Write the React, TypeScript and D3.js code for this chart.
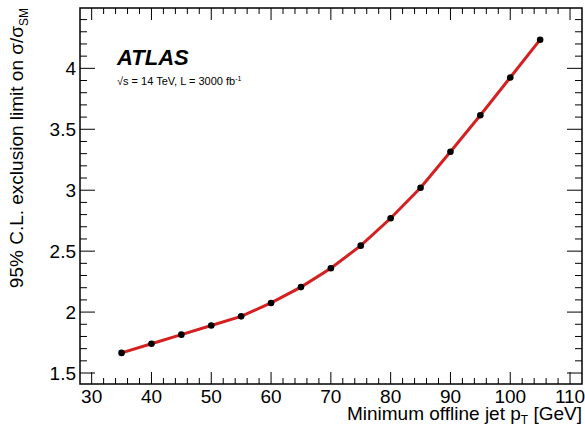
import React, { useEffect, useRef } from "react";
import * as d3 from "d3";

// minimum offline jet pT [GeV] and the limit on sigma/sigma_SM
const ptValues = [35, 40, 45, 50, 55, 60, 65, 70, 75, 80, 85, 90, 95, 100, 105];
const limitValues = [
  1.665, 1.74, 1.815, 1.89, 1.965, 2.075, 2.205, 2.36, 2.545, 2.77, 3.02, 3.315,
  3.615, 3.925, 4.235,
];
const xMajorTicks = [30, 40, 50, 60, 70, 80, 90, 100, 110];
const yMajorTicks = [1.5, 2, 2.5, 3, 3.5, 4];

const width = 585;
const height = 430;
const font = "Liberation Sans, Arial, Helvetica, sans-serif";

const App: React.FC = () => {
  const svgRef = useRef<SVGSVGElement | null>(null);

  useEffect(() => {
    if (!svgRef.current) return;
    const margin = { top: 8, right: 3, bottom: 46, left: 80 };
    const innerWidth = width - margin.left - margin.right;
    const innerHeight = height - margin.top - margin.bottom;

    d3.select(svgRef.current).selectAll("*").remove();
    const root = d3.select(svgRef.current);
    const svg = root
      .append("g")
      .attr("transform", `translate(${margin.left},${margin.top})`);

    const xScale = d3.scaleLinear().domain([28.05, 112]).range([0, innerWidth]);
    const yScale = d3.scaleLinear().domain([1.41, 4.495]).range([innerHeight, 0]);

    const xMinor = d3.range(30, 112, 2).filter((v) => v % 10 !== 0);
    const yMinor = d3
      .range(15, 45, 1)
      .map((v) => v / 10)
      .filter((v) => Math.round(v * 10) % 5 !== 0);

    // ticks on all four sides
    const tick = (
      vals: number[],
      len: number,
      side: "bottom" | "top" | "left" | "right"
    ) => {
      vals.forEach((v) => {
        const l = svg.append("line").attr("stroke", "black").attr("stroke-width", 1);
        if (side === "bottom" || side === "top") {
          const x = xScale(v);
          const y0 = side === "bottom" ? innerHeight : 0;
          const y1 = side === "bottom" ? innerHeight - len : len;
          l.attr("x1", x).attr("x2", x).attr("y1", y0).attr("y2", y1);
        } else {
          const y = yScale(v);
          const x0 = side === "left" ? 0 : innerWidth;
          const x1 = side === "left" ? len : innerWidth - len;
          l.attr("x1", x0).attr("x2", x1).attr("y1", y).attr("y2", y);
        }
      });
    };
    tick(xMajorTicks, 12, "bottom");
    tick(xMinor, 6, "bottom");
    tick(xMajorTicks, 12, "top");
    tick(xMinor, 6, "top");
    tick(yMajorTicks, 15, "left");
    tick(yMinor, 7, "left");
    tick(yMajorTicks, 15, "right");
    tick(yMinor, 7, "right");

    svg
      .append("rect")
      .attr("width", innerWidth)
      .attr("height", innerHeight)
      .attr("fill", "none")
      .attr("stroke", "black")
      .attr("stroke-width", 1.5);

    // tick labels
    svg
      .selectAll(".xlabel")
      .data(xMajorTicks)
      .enter()
      .append("text")
      .attr("x", (d) => xScale(d))
      .attr("y", innerHeight + 19)
      .attr("text-anchor", "middle")
      .attr("font-family", font)
      .attr("font-size", 19)
      .text((d) => String(d));

    svg
      .selectAll(".ylabel")
      .data(yMajorTicks)
      .enter()
      .append("text")
      .attr("x", -4)
      .attr("y", (d) => yScale(d) + 7)
      .attr("text-anchor", "end")
      .attr("font-family", font)
      .attr("font-size", 19)
      .text((d) => String(d));

    // axis titles
    const xt = svg
      .append("text")
      .attr("x", innerWidth)
      .attr("y", innerHeight + 36)
      .attr("text-anchor", "end")
      .attr("font-family", font)
      .attr("font-size", 19);
    xt.append("tspan").text("Minimum offline jet p");
    xt.append("tspan").attr("font-size", 12).attr("dy", 4).text("T");
    xt.append("tspan").attr("dy", -4).text(" [GeV]");

    const yt = svg
      .append("text")
      .attr("transform", `translate(${-57},0) rotate(-90)`)
      .attr("text-anchor", "end")
      .attr("font-family", font)
      .attr("font-size", 19);
    yt.append("tspan").text("95% C.L. exclusion limit on σ/σ");
    yt.append("tspan").attr("font-size", 12).attr("dy", 5).text("SM");

    // ATLAS label
    svg
      .append("text")
      .attr("x", 37)
      .attr("y", 57)
      .attr("font-family", font)
      .attr("font-size", 22)
      .attr("font-weight", "bold")
      .attr("font-style", "italic")
      .text("ATLAS");

    const sub = svg
      .append("text")
      .attr("x", 37)
      .attr("y", 77)
      .attr("font-family", font)
      .attr("font-size", 11);
    sub.append("tspan").text("√s = 14 TeV, L = 3000 fb");
    sub.append("tspan").attr("font-size", 7).attr("dy", -4).text("-1");

    const points = ptValues.map((p, i) => ({ p, v: limitValues[i] }));

    svg
      .append("path")
      .datum(points)
      .attr("fill", "none")
      .attr("stroke", "#d42020")
      .attr("stroke-width", 3)
      .attr(
        "d",
        d3
          .line<(typeof points)[0]>()
          .x((d) => xScale(d.p))
          .y((d) => yScale(d.v))
      );

    svg
      .selectAll(".pt")
      .data(points)
      .enter()
      .append("circle")
      .attr("cx", (d) => xScale(d.p))
      .attr("cy", (d) => yScale(d.v))
      .attr("r", 3.3)
      .attr("fill", "black");
  }, []);

  return (
    <svg
      ref={svgRef}
      width={width}
      height={height}
      style={{ position: "absolute", left: 0, top: 0, background: "white" }}
    />
  );
};

export default App;
